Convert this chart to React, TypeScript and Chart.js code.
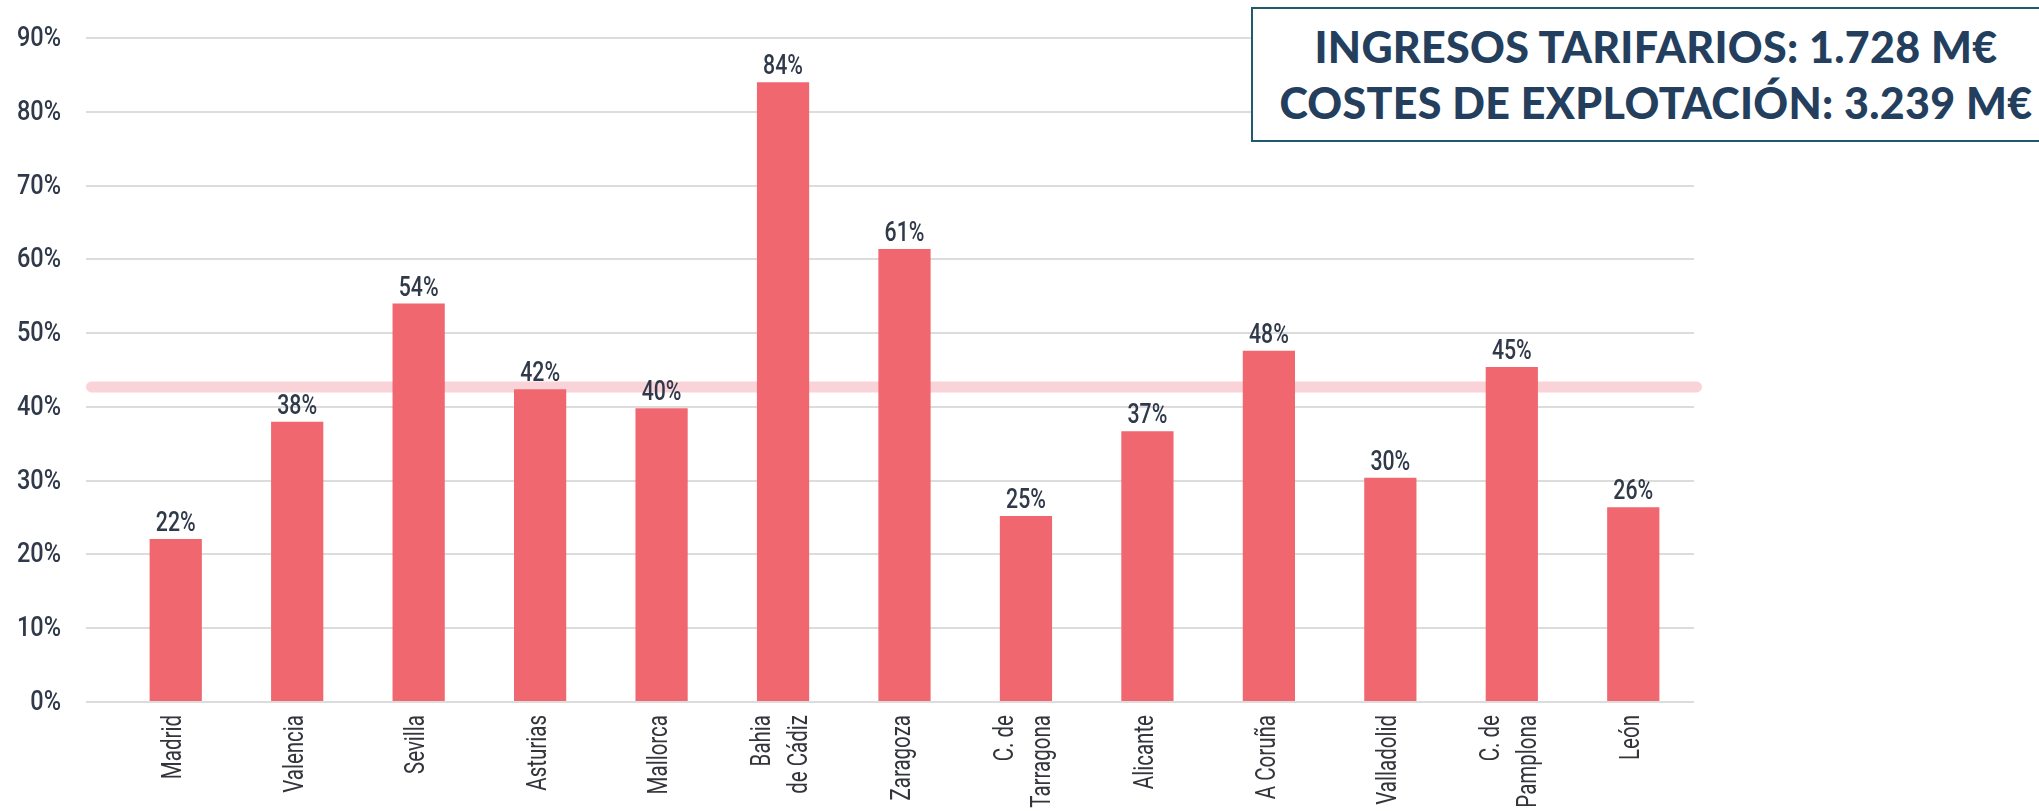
import React, { useEffect, useRef } from "react";
import { Chart, registerables } from "chart.js";

Chart.register(...registerables);

const CITIES: (string | string[])[] = [
  "Madrid",
  "Valencia",
  "Sevilla",
  "Asturias",
  "Mallorca",
  ["Bahia", "de Cádiz"],
  "Zaragoza",
  ["C. de", "Tarragona"],
  "Alicante",
  "A Coruña",
  "Valladolid",
  ["C. de", "Pamplona"],
  "León",
];

const COVERAGE = [22.1, 38.0, 54.0, 42.4, 39.8, 84.0, 61.4, 25.2, 36.7, 47.6, 30.4, 45.4, 26.4];

const AVERAGE = 42.7;

const BOX_LINES = ["INGRESOS TARIFARIOS: 1.728 M€", "COSTES DE EXPLOTACIÓN: 3.239 M€"];

const LABEL_FONT = "Roboto, 'Liberation Sans', sans-serif";
const TEXT_COLOR = "#2f3949";
const XTEXT_COLOR = "#33353b";
const BAR_COLOR = "#F0676F";
const TICK_LEN = 29;

function condensedText(ctx: CanvasRenderingContext2D, text: string, x: number, y: number, sx: number, angle = 0) {
  ctx.save();
  ctx.translate(x, y);
  if (angle) ctx.rotate(angle);
  ctx.scale(sx, 1);
  ctx.fillText(text, 0, 0);
  ctx.restore();
}

const avgLinePlugin = {
  id: "avgLine",
  beforeDatasetsDraw(chart: any) {
    const { ctx, chartArea, scales } = chart;
    const y = scales.y.getPixelForValue(AVERAGE);
    ctx.save();
    ctx.strokeStyle = "#FAD3D8";
    ctx.lineWidth = 11;
    ctx.lineCap = "round";
    ctx.beginPath();
    ctx.moveTo(chartArea.left - TICK_LEN + 5.5, y);
    ctx.lineTo(chartArea.right + 2.5, y);
    ctx.stroke();
    ctx.restore();
  },
};

const labelsPlugin = {
  id: "condensedLabels",
  afterDraw(chart: any) {
    const { ctx, chartArea, scales } = chart;
    ctx.save();

    // value labels above bars
    const meta = chart.getDatasetMeta(0);
    ctx.font = `500 28px ${LABEL_FONT}`;
    ctx.fillStyle = TEXT_COLOR;
    ctx.textAlign = "center";
    ctx.textBaseline = "alphabetic";
    meta.data.forEach((bar: any, i: number) => {
      const v = chart.data.datasets[0].data[i] as number;
      condensedText(ctx, `${Math.round(v)}%`, bar.x, bar.y - 8, 0.76);
    });

    // y tick labels
    ctx.font = `500 28px ${LABEL_FONT}`;
    ctx.textAlign = "right";
    ctx.textBaseline = "middle";
    scales.y.ticks.forEach((t: any) => {
      const y = scales.y.getPixelForValue(t.value);
      condensedText(ctx, `${t.value}%`, chartArea.left - TICK_LEN - 25, y + 1, 0.84);
    });

    // x tick labels, rotated
    ctx.font = `27px ${LABEL_FONT}`;
    ctx.fillStyle = XTEXT_COLOR;
    ctx.textAlign = "right";
    ctx.textBaseline = "middle";
    const labels = chart.data.labels as (string | string[])[];
    labels.forEach((lab, i) => {
      const x = scales.x.getPixelForTick(i);
      const lines = Array.isArray(lab) ? lab : [lab];
      const n = lines.length;
      lines.forEach((line, j) => {
        const off = (j - (n - 1) / 2) * 37;
        condensedText(ctx, line, x + off - 1, chartArea.bottom + 13, 0.76, -Math.PI / 2);
      });
    });

    ctx.restore();
  },
};

export default function App() {
  const canvasRef = useRef<HTMLCanvasElement | null>(null);

  useEffect(() => {
    if (!canvasRef.current) return;
    const chart = new Chart(canvasRef.current, {
      type: "bar",
      data: {
        labels: CITIES,
        datasets: [
          {
            data: COVERAGE,
            backgroundColor: BAR_COLOR,
            borderWidth: 0,
            barPercentage: 0.43,
            categoryPercentage: 1,
          },
        ],
      },
      options: {
        responsive: false,
        animation: false,
        layout: { padding: { left: 0, right: 345, top: 38, bottom: 0 } },
        plugins: {
          legend: { display: false },
          tooltip: { enabled: false },
          title: { display: false },
        },
        scales: {
          x: {
            offset: true,
            grid: { display: false },
            border: { display: false },
            ticks: { display: false, autoSkip: false },
            afterFit(axis: any) {
              axis.height = 109;
            },
          },
          y: {
            min: 0,
            max: 90,
            grid: {
              color: "#dcdcdc",
              lineWidth: 2,
              drawTicks: true,
              tickLength: TICK_LEN,
            },
            border: { display: false },
            ticks: { display: false, stepSize: 10 },
            afterFit(axis: any) {
              axis.width = 115;
            },
          },
        },
      },
      plugins: [avgLinePlugin, labelsPlugin],
    });
    return () => chart.destroy();
  }, []);

  return (
    <div
      style={{
        position: "absolute",
        left: 0,
        top: 0,
        width: 2039,
        height: 811,
        overflow: "hidden",
        background: "#ffffff",
      }}
    >
      <canvas ref={canvasRef} width={2039} height={811} style={{ display: "block" }} />
      <div
        style={{
          position: "absolute",
          left: 1251,
          top: 7,
          width: 810,
          height: 135,
          boxSizing: "border-box",
          border: "2.5px solid #215b6b",
          background: "#ffffff",
          paddingTop: 10,
          textAlign: "center",
          fontFamily: "Lato, 'Open Sans', 'Noto Sans', sans-serif",
          fontWeight: 900,
          fontSize: 43,
          letterSpacing: "0.3px",
          lineHeight: "56px",
          color: "#243f5e",
          whiteSpace: "nowrap",
        }}
      >
        {BOX_LINES.map((line, i) => (
          <div key={i}>{line}</div>
        ))}
      </div>
    </div>
  );
}
